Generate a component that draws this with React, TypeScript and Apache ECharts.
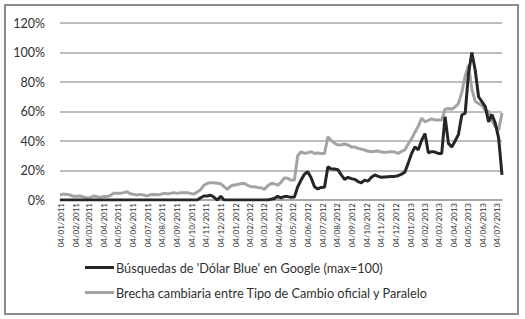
import React, { useEffect, useRef } from "react";
import * as echarts from "echarts";

// Weekly observations, first week 02/01/2011, last week 14/07/2013
const startDate = [2011, 0, 2];
const endDate = [2013, 6, 14];

const seriesNames = [
  "Búsquedas de 'Dólar Blue' en Google (max=100)",
  "Brecha cambiaria entre Tipo de Cambio oficial y Paralelo",
];

// Búsquedas (Google Trends, max = 100), weekly
const busquedas = [
  0, 0, 0, 0, 0, 0, 0, 0, 0, 0,
  0, 0, 0, 0, 0, 0, 0, 0, 0, 0,
  0, 0, 0, 0, 0, 0, 0, 0, 0, 0,
  0, 0, 0, 0, 0, 0, 0, 0, 0, 0,
  0, 0, 1.5, 2.7, 2.7, 3.2, 1.8, 0, 2.5, 0,
  0, 0, 0, 0, 0, 0, 0, 0, 0, 0,
  0, 0, 0, 0.5, 1, 2.5, 1.5, 2.3, 2.3, 1.8,
  2, 9, 13.5, 17.5, 19.2, 15, 9, 7.5, 8.5, 8.6,
  22.6, 21, 21, 20.5, 17, 14, 15.4, 14.5, 14, 12.5,
  11.7, 13.5, 12.8, 15.4, 17, 16, 15.4, 15.6, 15.8, 16,
  16, 16.5, 17.5, 19, 25, 31.5, 36, 34, 40.5, 45,
  32, 32.8, 32.5, 31.6, 31.6, 56.5, 38.4, 36, 40, 44.5,
  57.6, 58.8, 86, 100, 88, 70, 66.7, 63.3, 53, 58,
  52, 42, 17,
];

// Brecha cambiaria (%), weekly
const brecha = [
  3.4, 4, 3.8, 3.4, 2.5, 2.5, 2.7, 2, 1.5, 1.5,
  2.7, 2.2, 1.8, 2.3, 2.3, 3, 4.5, 4.5, 4.5, 5,
  5.6, 4.2, 3.8, 3.4, 3.8, 3.4, 2.8, 3.6, 3.8, 3.5,
  3.8, 4.5, 4.2, 4.5, 5, 4.5, 5, 5, 5, 4.5,
  4, 5.5, 7, 10, 11.3, 11.7, 11.7, 11.3, 11, 9,
  7.2, 9.5, 10.2, 10.5, 11, 11.3, 10, 9, 9, 8.5,
  8.3, 7.2, 9.5, 11.2, 11, 10, 12, 15, 14.7, 13.5,
  13.5, 30, 32.7, 31.6, 32, 32.7, 31.6, 31.8, 31.6, 31.6,
  42.9, 40.5, 38.5, 37.3, 37.5, 38, 37.3, 36, 36, 35,
  34.5, 33.9, 33, 32.7, 33, 33.2, 32.5, 32.3, 32.5, 32.8,
  32.5, 31.6, 33, 34, 38, 41.5, 46, 50, 55.5, 53,
  54, 55, 54.2, 54.2, 54.2, 61.5, 62, 61.5, 63, 65.5,
  73, 84, 91.5, 75, 67, 65.5, 64, 61, 60, 54,
  49.7, 47.5, 59,
];

const DAY = 86400000;

function pad(n: number) {
  return n < 10 ? "0" + n : "" + n;
}

export default function App() {
  const ref = useRef<HTMLDivElement>(null);

  useEffect(() => {
    if (!ref.current) return;
    const chart = echarts.init(ref.current, null, { renderer: "svg" });

    const t0 = Date.UTC(startDate[0], startDate[1], startDate[2]);
    const t1 = Date.UTC(endDate[0], endDate[1], endDate[2]);
    const totalDays = Math.round((t1 - t0) / DAY);
    const weekDays = busquedas.map((_, i) => i * 7);

    // month label positions (day offsets): the 4th of each month
    const labelDays: number[] = [];
    for (let y = 2011; y <= 2013; y++) {
      for (let m = 0; m < 12; m++) {
        const t = Date.UTC(y, m, 4);
        if (t >= t0 && t <= t1) labelDays.push(Math.round((t - t0) / DAY));
      }
    }

    const font = "Lato, 'Open Sans', sans-serif";

    chart.setOption({
      animation: false,
      backgroundColor: "#ffffff",
      graphic: [
        {
          type: "rect",
          shape: { x: 5, y: 5, width: 513, height: 309 },
          style: { fill: "none", stroke: "#8c8c8c", lineWidth: 2 },
          silent: true,
        },
      ],
      grid: {
        left: 60,
        right: 23,
        top: 23,
        bottom: 119,
        containLabel: false,
      },
      legend: {
        orient: "vertical",
        left: 80,
        top: 255,
        itemGap: 10,
        itemWidth: 29,
        itemHeight: 3,
        icon: "rect",
        textStyle: {
          fontFamily: font,
          fontSize: 12.7,
          color: "#303030",
          lineHeight: 15,
          padding: [0, 0, 0, -3],
        },
        data: seriesNames,
      },
      xAxis: {
        type: "value",
        min: 0,
        max: totalDays,
        axisLine: { show: true, onZero: false, lineStyle: { color: "#a0a0a0", width: 1.5 } },
        axisTick: { show: false },
        splitLine: { show: false },
        axisLabel: {
          customValues: labelDays,
          rotate: 90,
          fontFamily: font,
          fontSize: 8,
          color: "#303030",
          margin: 3,
          formatter: (v: number) => {
            const d = new Date(t0 + v * DAY);
            return pad(d.getUTCDate()) + "/" + pad(d.getUTCMonth() + 1) + "/" + d.getUTCFullYear();
          },
        },
      },
      yAxis: {
        type: "value",
        min: 0,
        max: 120,
        interval: 20,
        axisLine: { show: false },
        axisTick: { show: false },
        splitLine: { show: true, lineStyle: { color: "#a8a8a8", width: 1.5 } },
        axisLabel: {
          fontFamily: font,
          fontSize: 12.5,
          color: "#303030",
          margin: 15,
          formatter: (v: number) => v + "%",
        },
      },
      series: [
        {
          name: seriesNames[0],
          type: "line",
          symbol: "none",
          z: 3,
          data: busquedas.map((v, i) => [weekDays[i], v]),
          lineStyle: { color: "#262626", width: 3 },
          itemStyle: { color: "#262626" },
        },
        {
          name: seriesNames[1],
          type: "line",
          symbol: "none",
          z: 2,
          data: brecha.map((v, i) => [weekDays[i], v]),
          lineStyle: { color: "#a3a3a3", width: 3 },
          itemStyle: { color: "#a3a3a3" },
        },
      ],
    });

    return () => chart.dispose();
  }, []);

  return (
    <div
      ref={ref}
      style={{ position: "fixed", left: 0, top: 0, width: 525, height: 319 }}
    />
  );
}
